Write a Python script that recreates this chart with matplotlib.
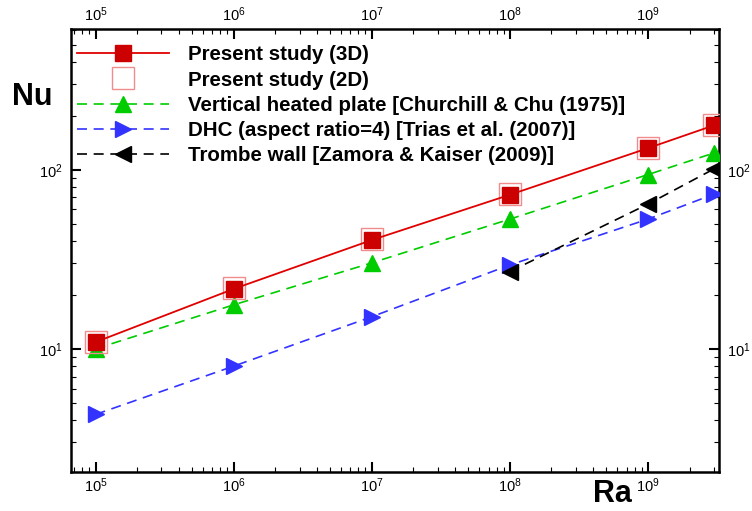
import matplotlib
matplotlib.use("Agg")
import matplotlib.pyplot as plt
from matplotlib.ticker import LogLocator, LogFormatterSciNotation, NullFormatter

# Helvetica-like look (Tecplot style), exponents via mathtext in the same family
plt.rcParams['font.family'] = ['Liberation Sans', 'DejaVu Sans']
plt.rcParams['mathtext.fontset'] = 'custom'
plt.rcParams['mathtext.rm'] = 'Liberation Sans'
plt.rcParams['mathtext.it'] = 'Liberation Sans:italic'
plt.rcParams['mathtext.bf'] = 'Liberation Sans:bold'

## Data
ra = [1e5, 1e6, 1e7, 1e8, 1e9, 3e9]
nu_3d = [10.9, 21.6, 40.5, 72.5, 132.0, 177.0]
nu_2d = [10.9, 21.8, 40.8, 72.8, 132.5, 177.0]
nu_churchill = [10.0, 17.6, 30.2, 53.0, 94.0, 124.0]
nu_trias = [4.3, 8.0, 15.1, 29.4, 53.0, 73.0]
ra_trombe = [1e8, 1e9, 3e9]
nu_trombe = [27.0, 64.3, 101.0]

labels = ["Present study (3D)",
          "Present study (2D)",
          "Vertical heated plate [Churchill & Chu (1975)]",
          "DHC (aspect ratio=4) [Trias et al. (2007)]",
          "Trombe wall [Zamora & Kaiser (2009)]"]

fig = plt.figure(figsize=(7.52, 5.11), dpi=100)
ax = fig.add_axes([0.094, 0.0763, 0.8617, 0.8679])

dash = (6, 4)
ax.plot(ra, nu_3d, '-', color='#e00000', lw=1.3, marker='s', ms=11,
        mfc='#cc0000', mec='#cc0000', label=labels[0], zorder=5)
ax.plot(ra, nu_2d, 'none', marker='s', ms=16.5, mfc='none', mec='#f08c8c',
        mew=1.0, label=labels[1], zorder=4)
ax.plot(ra, nu_churchill, '--', dashes=dash, color='#00cc00', lw=1.2, marker='^',
        ms=11, mfc='#00cc00', mec='#00cc00', label=labels[2], zorder=3)
ax.plot(ra, nu_trias, '--', dashes=dash, color='#3333ff', lw=1.2, marker='>',
        ms=11, mfc='#3333ff', mec='#3333ff', label=labels[3], zorder=3)
ax.plot(ra_trombe, nu_trombe, '--', dashes=dash, color='black', lw=1.2, marker='<',
        ms=11, mfc='black', mec='black', label=labels[4], zorder=3)

ax.set_xscale('log')
ax.set_yscale('log')
ax.set_xlim(6.6e4, 3.25e9)
ax.set_ylim(2.05, 615)

for axis in (ax.xaxis, ax.yaxis):
    axis.set_major_locator(LogLocator(base=10))
    axis.set_major_formatter(LogFormatterSciNotation())
    axis.set_minor_locator(LogLocator(base=10, subs=range(2, 10)))
    axis.set_minor_formatter(NullFormatter())

ax.tick_params(which='both', direction='in', top=True, right=True,
               labeltop=True, labelright=True, labelsize=10.5)
ax.tick_params(which='major', length=7, width=1.5)
ax.tick_params(which='minor', length=3.5, width=0.8)
ax.tick_params(axis='x', which='major', pad=3)
ax.tick_params(axis='y', which='major', pad=6)
for s in ax.spines.values():
    s.set_linewidth(1.8)

fig.text(32 / 752, 1 - 97 / 511, "Nu", fontsize=22, fontweight='bold',
         ha='center', va='center')
fig.text(612 / 752, 1 - 494 / 511, "Ra", fontsize=22, fontweight='bold',
         ha='center', va='center')

ax.legend(loc='upper left', bbox_to_anchor=(0.0097, 0.962), frameon=False,
          borderaxespad=0, borderpad=0, handlelength=4.5, handletextpad=0.9,
          labelspacing=0.3, numpoints=1,
          prop={'family': 'Liberation Sans', 'weight': 'bold', 'size': 14.8})

fig.savefig("out.png", dpi=100)
